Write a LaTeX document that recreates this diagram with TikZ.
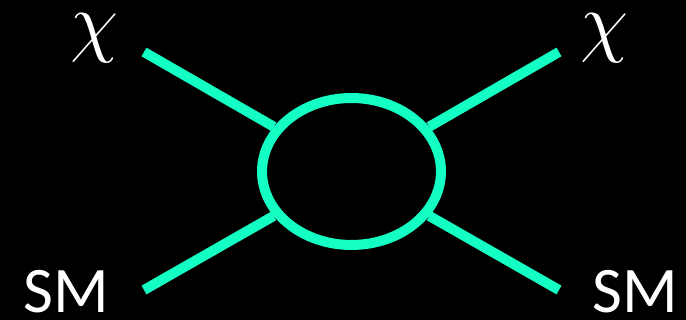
\documentclass[tikz,border=0pt]{standalone}
\usepackage{fontspec}
\newfontfamily\calfont{Carlito}
\usepackage{tikz}
\usetikzlibrary{shapes.geometric}
\definecolor{mint}{HTML}{14FFC3}
\definecolor{bgblack}{HTML}{000000}
\tikzset{
  leg/.style={draw=mint, line width=0.2cm},
  loopbox/.style={ellipse, draw=mint, line width=0.2cm, inner sep=0pt,
    minimum width=3.58cm, minimum height=2.94cm},
  smlabel/.style={text=white, font=\calfont\fontsize{37}{42}\selectfont, inner sep=0pt},
  dmlabel/.style={text=white, font=\fontsize{20}{24}\selectfont, inner sep=0pt, scale=2.15},
}
\begin{document}
\begin{tikzpicture}[x=0.02cm, y=-0.02cm]
  \fill[bgblack] (0,0) rectangle (686,320);
  \useasboundingbox (0,0) rectangle (686,320);
  \node[loopbox] (loop) at (351.5,171.5) {};
  \coordinate (tl) at (144,52);
  \coordinate (bl) at (144,290);
  \coordinate (tr) at (559,52);
  \coordinate (br) at (559,290);
  \draw[leg] (tl) -- (loop);
  \draw[leg] (bl) -- (loop);
  \draw[leg] (tr) -- (loop);
  \draw[leg] (br) -- (loop);
  \node[dmlabel] (chil) at (95,38) {$\chi$};
  \node[dmlabel] (chir) at (605,38) {$\chi$};
  \node[smlabel, anchor=base west] (sml) at (23,313) {SM};
  \node[smlabel, anchor=base east] (smr) at (678,313) {SM};
\end{tikzpicture}
\end{document}
